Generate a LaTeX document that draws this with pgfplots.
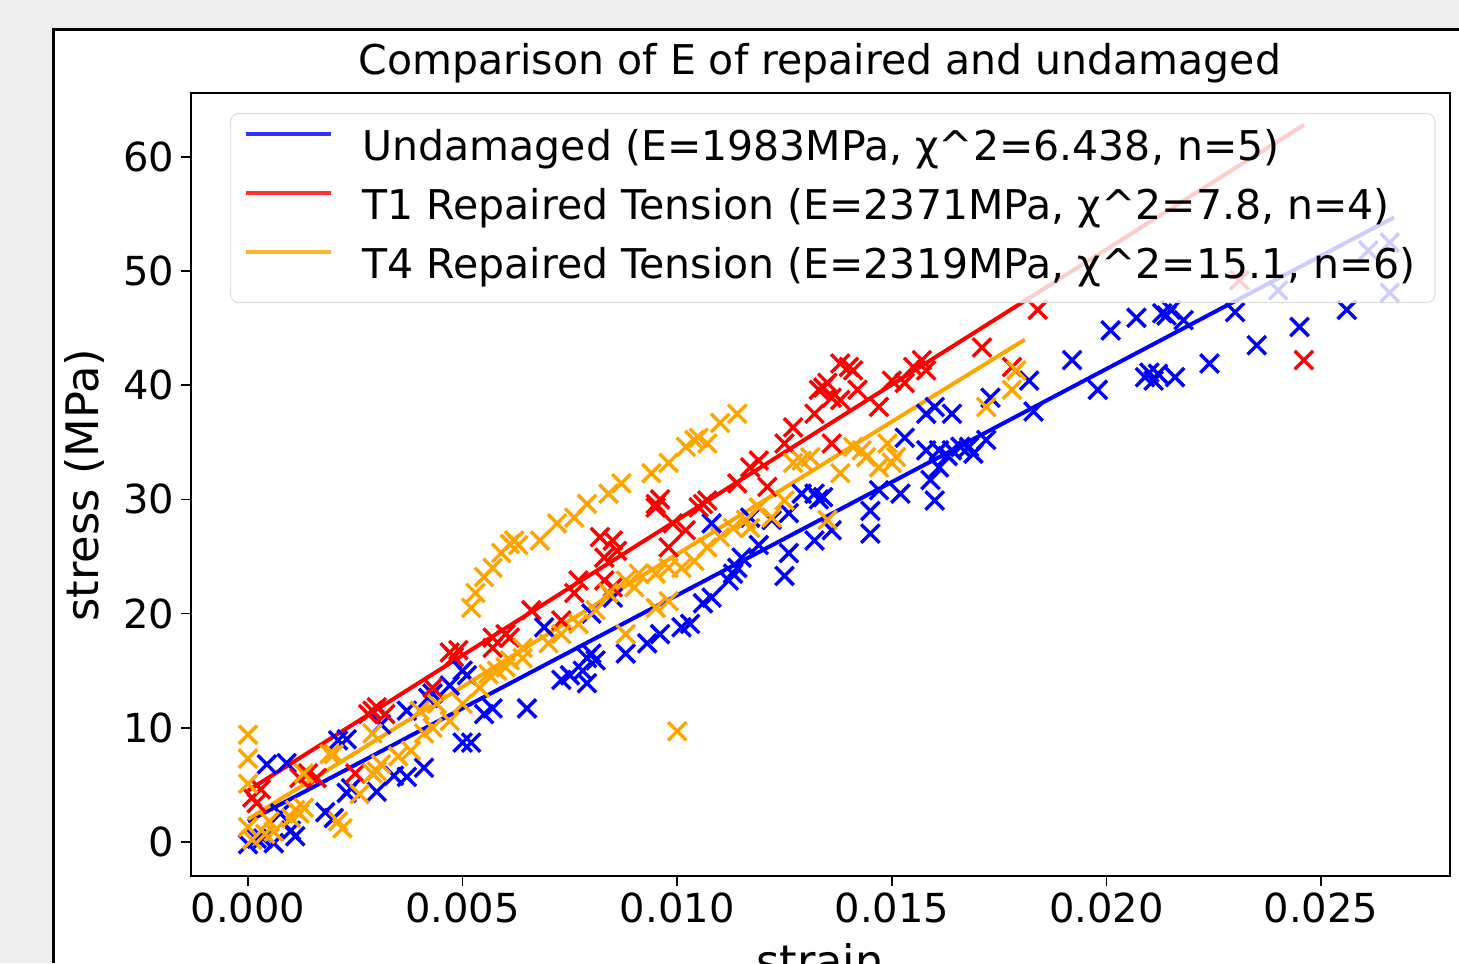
\documentclass[border=0pt]{standalone}
\usepackage{fontspec}
\setmainfont{DejaVu Sans}
\usepackage{pgfplots}
\pgfplotsset{compat=1.18}

\definecolor{mplorange}{RGB}{255,165,0}
\definecolor{screengray}{RGB}{238,238,238}
\newcommand{\figfont}{\fontsize{20}{24}\selectfont}
\newcommand{\ttlfont}{\fontsize{20.5}{24.5}\selectfont}
\newcommand{\lblfont}{\fontsize{22.4}{27}\selectfont}

\begin{document}
\begin{tikzpicture}[font=\figfont]
% screenshot surround: 1459x963 px at 0.5pt per px
\path[use as bounding box] (0pt,0pt) rectangle (729.5pt,-481.5pt);
\clip (0pt,0pt) rectangle (729.5pt,-481.5pt);
\fill[screengray] (0pt,0pt) rectangle (729.5pt,-481.5pt);
\fill[white] (26pt,-14pt) rectangle (729.5pt,-481.5pt);
\draw[line width=1.5pt] (26.75pt,-481.5pt) -- (26.75pt,-14.75pt) -- (729.5pt,-14.75pt);

\begin{axis}[
  at={(95.5pt,-438pt)}, anchor=south west,
  width=629.5pt, height=391.5pt, scale only axis,
  xmin=-0.001328, xmax=0.028005,
  ymin=-2.98, ymax=65.59,
  xtick={0,0.005,0.01,0.015,0.02,0.025},
  xticklabels={0.000,0.005,0.010,0.015,0.020,0.025},
  ytick={0,10,20,30,40,50,60},
  yticklabels={0,10,20,30,40,50,60},
  scaled x ticks=false,
  tick align=outside, tick pos=left,
  major tick length=5pt,
  tick style={line width=0.75pt, black},
  axis line style={line width=1pt},
  tick label style={font=\figfont},
  legend cell align=left,
  legend image code/.code={
    \draw[#1, line width=2pt] (0pt,7.5pt) -- (42.5pt,7.5pt);
    \path[draw=none] (0pt,7.5pt) -- (55.5pt,7.5pt);
  },
  legend style={
    at={(0.031,0.9745)}, anchor=north west,
    font=\ttlfont,
    draw=black!15, fill=white, fill opacity=0.8, draw opacity=0.8,
    text opacity=1, rounded corners=4pt, line width=0.6pt,
    inner xsep=6.5pt, inner ysep=5.25pt, row sep=4.5pt,
    nodes={inner xsep=3pt, inner ysep=3pt, text height=15pt, text depth=4pt},
  },
]

% Undamaged
\addplot[only marks, mark=x, mark size=6.5pt, line width=1.7pt, blue, forget plot] table {
x y
0.0000 -0.2
0.0002 0.3
0.00035 0.3
0.0006 -0.1
0.0010 1.0
0.0011 0.5
0.00075 2.5
0.00044 6.8
0.0009 6.9
0.0018 2.6
0.0020 2.1
0.0023 4.3
0.0024 4.7
0.0030 4.4
0.0034 5.8
0.0037 5.7
0.0041 6.5
0.0021 8.9
0.0023 9.0
0.0031 10.3
0.0037 11.5
0.0042 12.6
0.0043 13.0
0.0047 13.7
0.0051 14.6
0.0050 15.0
0.0050 8.7
0.0052 8.7
0.0055 11.2
0.0057 11.7
0.0065 11.7
0.0069 18.8
0.0073 14.2
0.0075 14.6
0.0078 15.0
0.0079 16.1
0.0080 16.5
0.0081 15.9
0.0079 13.9
0.0080 20.0
0.0085 21.4
0.0088 16.5
0.0093 17.4
0.0096 18.2
0.0101 18.8
0.0103 19.1
0.0106 20.9
0.0108 21.4
0.0112 22.9
0.0114 24.0
0.0115 24.9
0.0113 23.5
0.0108 27.9
0.0117 28.4
0.0119 26.0
0.0122 28.2
0.0125 23.3
0.0126 25.3
0.0126 28.8
0.0129 30.5
0.0132 30.5
0.0133 30.0
0.0134 30.2
0.0132 26.4
0.0136 27.3
0.0145 29.0
0.0145 27.0
0.0147 30.8
0.0152 30.5
0.0153 35.4
0.0158 37.5
0.0160 38.1
0.0164 37.5
0.0158 34.3
0.0161 34.3
0.0163 33.8
0.0164 34.3
0.0166 34.6
0.0168 34.6
0.0169 34.0
0.0172 35.2
0.0159 31.7
0.0161 32.8
0.0160 29.9
0.0173 38.9
0.0182 40.4
0.0183 37.7
0.0192 42.2
0.0198 39.6
0.0201 44.8
0.0207 45.9
0.0209 40.7
0.0210 41.1
0.0211 40.4
0.0212 41.0
0.0213 46.3
0.0214 46.1
0.0215 46.6
0.0216 40.7
0.0218 45.7
0.0224 41.9
0.0230 46.4
0.0235 43.5
0.0240 48.3
0.0245 45.1
0.0256 46.6
0.0261 51.8
0.0266 48.1
0.0266 52.5
};

% T1 repaired tension
\addplot[only marks, mark=x, mark size=6.5pt, line width=1.7pt, red, forget plot] table {
x y
0.0001 3.9
0.0002 3.4
0.0003 4.6
0.0012 5.6
0.0014 6.0
0.0016 5.6
0.0025 6.0
0.0028 11.2
0.0029 11.5
0.0030 11.8
0.0032 11.2
0.0043 13.5
0.0047 16.6
0.0048 16.2
0.0049 16.8
0.0057 17.0
0.0057 17.9
0.0060 18.2
0.0061 17.9
0.0066 20.3
0.0073 19.4
0.0076 21.8
0.0077 22.9
0.0082 26.7
0.0083 24.9
0.0083 22.9
0.0085 26.4
0.0085 22.3
0.0086 25.5
0.0095 29.6
0.0095 29.3
0.0096 30.0
0.0098 25.8
0.0099 27.9
0.0102 27.3
0.0105 29.3
0.0106 29.6
0.0107 29.9
0.0114 31.4
0.0117 32.8
0.0119 33.4
0.0121 31.1
0.0125 34.9
0.0127 36.3
0.0132 37.5
0.0133 39.6
0.0134 39.8
0.0135 40.2
0.0136 38.9
0.0138 38.7
0.0136 34.9
0.0138 41.9
0.0140 41.6
0.0141 41.3
0.0142 39.6
0.0147 38.1
0.0150 40.4
0.0153 40.2
0.0155 41.6
0.0157 42.2
0.0158 41.3
0.0171 43.3
0.0178 41.6
0.0184 46.6
0.0231 49.2
0.0246 42.2
};

% T4 repaired tension
\addplot[only marks, mark=x, mark size=6.5pt, line width=1.7pt, mplorange, forget plot] table {
x y
0.0000 9.4
0.0000 7.3
0.0000 5.1
0.0000 1.3
0.0001 0.2
0.0004 0.7
0.0005 1.8
0.0006 0.9
0.0010 2.1
0.0011 2.8
0.0012 2.5
0.0013 3.0
0.0013 6.0
0.0019 7.7
0.0020 7.7
0.0021 1.8
0.0022 1.2
0.0026 4.2
0.0029 6.0
0.0029 9.5
0.0030 6.2
0.0031 6.8
0.0035 7.5
0.0038 8.0
0.0040 11.5
0.0041 9.5
0.0043 10.0
0.0044 12.1
0.0047 10.6
0.0050 12.1
0.0054 13.5
0.0056 14.7
0.0058 15.0
0.0060 15.3
0.0061 15.9
0.0064 16.1
0.0064 17.0
0.0070 17.4
0.0073 18.2
0.0077 19.1
0.0081 20.3
0.0084 21.8
0.0088 22.9
0.0088 18.2
0.0090 22.3
0.0091 23.5
0.0095 23.5
0.0095 20.5
0.0098 24.0
0.0098 21.1
0.0100 9.7
0.0101 24.0
0.0104 24.6
0.0107 25.8
0.0110 26.7
0.0113 27.5
0.0116 28.2
0.0117 27.5
0.0119 29.3
0.0122 28.4
0.0125 29.9
0.0127 33.2
0.0129 33.4
0.0131 33.7
0.0135 28.2
0.0138 32.3
0.0141 34.6
0.0143 34.3
0.0144 33.7
0.0147 32.8
0.0149 34.9
0.0150 33.2
0.0151 33.7
0.0172 38.1
0.0178 39.6
0.0179 41.3
0.0052 20.5
0.0053 21.8
0.0055 23.2
0.0057 24.0
0.0059 25.3
0.0061 26.1
0.0062 26.4
0.0063 26.0
0.0068 26.4
0.0072 27.9
0.0076 28.4
0.0079 29.6
0.0084 30.5
0.0087 31.4
0.0094 32.3
0.0098 33.2
0.0102 34.6
0.0104 35.2
0.0105 35.4
0.0107 34.9
0.0110 36.7
0.0114 37.5
};

% linear fits
\addplot[blue, line width=2pt] coordinates {(0,1.8) (0.0267,54.7)};
\addlegendentry{Undamaged (E=1983MPa, χ\textasciicircum{}2=6.438, n=5)}
\addplot[red, line width=2pt] coordinates {(0,4.5) (0.0246,62.8)};
\addlegendentry{T1 Repaired Tension (E=2371MPa, χ\textasciicircum{}2=7.8, n=4)}
\addplot[mplorange, line width=2pt] coordinates {(0,2.0) (0.0181,44.0)};
\addlegendentry{T4 Repaired Tension (E=2319MPa, χ\textasciicircum{}2=15.1, n=6)}
\end{axis}

\node[anchor=base, font=\ttlfont] at (410pt,-37.5pt) {Comparison of E of repaired and undamaged};
\node[rotate=90, anchor=center, font=\lblfont] at (42pt,-242.5pt) {stress (MPa)};
\node[anchor=base, font=\lblfont] at (410pt,-488.5pt) {strain};
\end{tikzpicture}
\end{document}
